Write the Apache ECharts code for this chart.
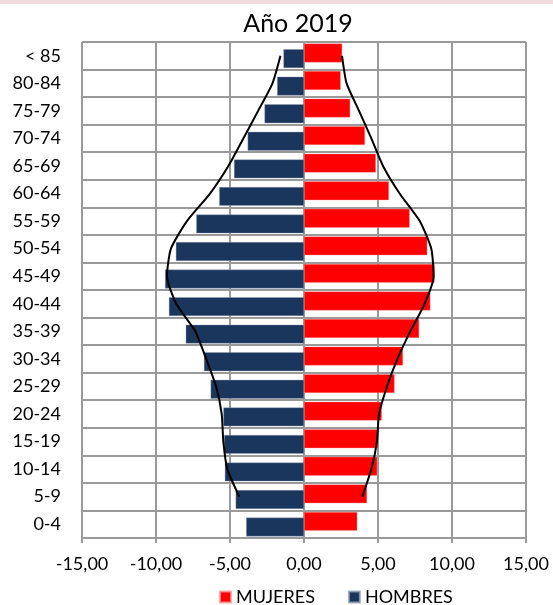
<!DOCTYPE html>
<html>
<head>
<meta charset="utf-8">
<script src="https://cdn.jsdelivr.net/npm/echarts@6/dist/echarts.min.js"></script>
<style>
  html, body { margin: 0; padding: 0; background: #fff; }
  #band { position: absolute; left: 0; top: 0; width: 553px; height: 4px; background: #F2DCDB; }
  #chart { width: 553px; height: 605px; }
</style>
</head>
<body>
<div id="band"></div>
<div id="chart"></div>
<script>
// Age groups, bottom to top
const categories = ['0-4','5-9','10-14','15-19','20-24','25-29','30-34','35-39','40-44','45-49','50-54','55-59','60-64','65-69','70-74','75-79','80-84','< 85'];
const mujeres = [3.60, 4.26, 4.95, 5.02, 5.26, 6.12, 6.69, 7.78, 8.54, 8.82, 8.33, 7.14, 5.74, 4.86, 4.12, 3.12, 2.48, 2.58];
const hombres = [-3.91, -4.62, -5.35, -5.40, -5.45, -6.31, -6.76, -7.99, -9.13, -9.39, -8.66, -7.28, -5.73, -4.73, -3.81, -2.67, -1.82, -1.39];
// Overlay outline (from 5-9 up to < 85)
const lineCats = ['5-9','10-14','15-19','20-24','25-29','30-34','35-39','40-44','45-49','50-54','55-59','60-64','65-69','70-74','75-79','80-84','< 85'];
const lineLeft = [-4.37, -5.18, -5.45, -5.56, -5.94, -6.61, -7.35, -8.63, -9.26, -8.99, -7.91, -6.35, -5.11, -4.10, -3.10, -2.13, -1.59];
const lineRight = [3.94, 4.55, 4.93, 5.07, 5.61, 6.31, 7.18, 8.15, 8.76, 8.60, 7.82, 6.46, 5.34, 4.55, 3.72, 2.88, 2.57];
const xTicks = { min: -15, max: 15, interval: 5 };

const FONT = 'Lato, "Open Sans", sans-serif';
const GRID = '#9a9a9a';
const chart = echarts.init(document.getElementById('chart'));
chart.setOption({
  animation: false,
  title: {
    text: 'Año 2019', left: 293, top: 6, textAlign: 'center',
    textStyle: { fontFamily: FONT, fontSize: 25, fontWeight: 'normal', color: '#000' }
  },
  legend: {
    data: ['MUJERES', 'HOMBRES'],
    left: 214, top: 583,
    icon: 'rect', itemWidth: 11, itemHeight: 11, itemGap: 33,
    textStyle: { fontFamily: FONT, fontSize: 18, color: '#000', padding: [0, 0, 0, 0] }
  },
  grid: { left: 82, right: 27, top: 42, bottom: 67, containLabel: false },
  xAxis: {
    type: 'value', min: xTicks.min, max: xTicks.max, interval: xTicks.interval,
    axisLine: { show: true, lineStyle: { color: GRID, width: 2 } },
    axisTick: { show: true, length: 5, lineStyle: { color: GRID, width: 2 } },
    splitLine: { show: true, lineStyle: { color: GRID, width: 2 } },
    axisLabel: {
      fontFamily: FONT, fontSize: 18, color: '#000', margin: 17,
      formatter: v => v.toFixed(2).replace('.', ',')
    }
  },
  yAxis: {
    type: 'category', data: categories,
    axisLine: { show: true, lineStyle: { color: GRID, width: 2 } },
    axisTick: { show: false },
    splitLine: { show: true, lineStyle: { color: GRID, width: 2 } },
    axisLabel: { fontFamily: FONT, fontSize: 18, color: '#000', margin: 21 }
  },
  series: [
    {
      name: 'MUJERES', type: 'bar', data: mujeres,
      barGap: '-70%', barCategoryGap: '11%',
      itemStyle: { color: '#FF0000', borderColor: 'rgba(255,150,150,0.8)', borderWidth: 0.5 }
    },
    {
      name: 'HOMBRES', type: 'bar', data: hombres,
      barGap: '-70%', barCategoryGap: '11%',
      itemStyle: { color: '#1B365D', borderColor: 'rgba(150,160,180,0.8)', borderWidth: 0.5 }
    },
    {
      name: 'izq', type: 'line', data: lineLeft.map((v, i) => [v, lineCats[i]]),
      symbol: 'none', smooth: 0.2, lineStyle: { color: '#000', width: 2 }, z: 5
    },
    {
      name: 'der', type: 'line', data: lineRight.map((v, i) => [v, lineCats[i]]),
      symbol: 'none', smooth: 0.2, lineStyle: { color: '#000', width: 2 }, z: 5
    }
  ]
});
</script>
</body>
</html>
